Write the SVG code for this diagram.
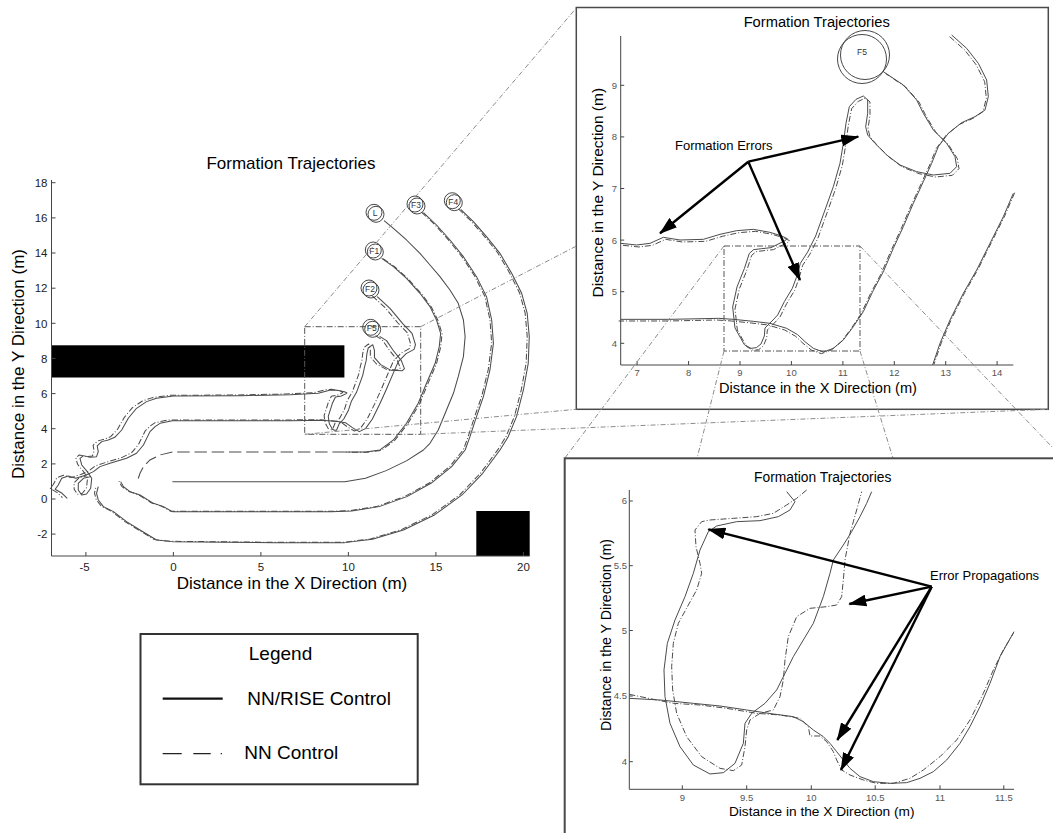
<svg xmlns="http://www.w3.org/2000/svg" width="1053" height="833" viewBox="0 0 1053 833">
<style>
  text{font-family:"Liberation Sans",Arial,Helvetica,sans-serif}
  .ttl{font-size:17px;text-anchor:middle}
  .tk{font-size:11.5px;fill:#222}
  .tks{font-size:9.5px;fill:#555}
  .ax{fill:none;stroke:#444;stroke-width:1}
  .tr{fill:none;stroke:#4a4a4a;stroke-width:3;stroke-linejoin:round}
  .dd{fill:none;stroke:#4a4a4a;stroke-width:3;stroke-dasharray:18 6 3 6;stroke-linejoin:round}
  .ld{fill:none;stroke:#4a4a4a;stroke-width:3;stroke-dasharray:36 14}
  .zr{fill:none;stroke:#555;stroke-width:1;stroke-dasharray:6 2 1 2}
  .cn{fill:none;stroke:#8c8c8c;stroke-width:1;stroke-dasharray:5 2 1 2}
  .frame{fill:#fff;stroke:#4a4a4a}
  .ar{fill:none;stroke:#000;stroke-width:2.4;marker-end:url(#ah)}
  .rb{fill:none;stroke:#333;stroke-width:0.9}
  .rl{font-size:8.5px;fill:#333;text-anchor:middle}
</style>
<defs>
  <marker id="ah" markerUnits="userSpaceOnUse" markerWidth="18" markerHeight="12" refX="17" refY="6" orient="auto">
    <path d="M0,0 L18,6 L0,12 z" fill="#000"/>
  </marker>
  <!-- robot paths, main plot (local units) -->
  <path id="mL" d="M1114,212 L1141,235 1179,270 1218,310 1247,345 1276,380 1305,420 1329,460 1344,510 1349,560 1344,620 1329,680 1315,730 1295,780 1271,840 1247,880 1228,900 1180,932 1120,962 1060,985 1000,995 500,995"/>
  <path id="mF1" d="M1107,325 L1141,350 1179,385 1218,430 1247,470 1266,510 1278,550 1274,590 1262,640 1237,700 1213,760 1179,820 1141,870 1102,900 1060,906 1000,906"/>
  <path id="mF1b" d="M1000,906 L500,906 464,915 435,930 416,950 406,970 398,995"/>
  <path id="mF3" d="M1228,188 L1266,225 1305,270 1344,320 1382,380 1411,440 1426,510 1431,580 1421,660 1402,740 1382,800 1363,860 1349,900 1310,950 1250,1000 1180,1040 1100,1070 1020,1083 960,1085 500,1085 474,1070 445,1060 406,1035 377,1025 358,1010 350,995"/>
  <path id="mF4" d="M1336,178 L1373,215 1411,260 1450,310 1484,370 1513,430 1529,490 1535,560 1532,640 1518,720 1498,800 1474,860 1450,900 1400,970 1340,1035 1260,1095 1170,1140 1080,1168 1000,1178 800,1178 500,1175 454,1170 406,1140 367,1115 329,1085 300,1070 285,1050 280,1030 285,1010"/>
  <path id="mF2" d="M1094,440 L1131,475 1168,521 1195,550 1205,584 1201,598 1178,611 1155,635 1140,671 1121,717 1101,763 1080,807 1060,836 1042,845 1022,833 1002,818 973,814 933,811 842,812 500,812 464,820 450,830 435,845 416,885 396,910 367,925 319,940 290,950 271,965 250,975 220,985 198,978 179,985 169,1005 160,1018 180,1030 195,1045"/>
  <path id="mF5" d="M1101,559 L1121,572 1140,601 1164,632 1173,656 1167,662 1134,661 1104,644 1086,623 1086,601 1081,584 1068,594 1064,612 1062,632 1057,652 1052,676 1034,727 1019,754 1011,780 997,807 984,821 976,841 970,841 964,838 955,821 952,799 964,760 973,741 990,738 1004,731 1006,729 1001,726 989,723 973,720 956,721 923,730 842,734 700,737 503,738 454,745 425,755 396,775 372,805 353,840 333,862 314,870 295,875 282,888 285,905 280,920 261,922 242,917 232,925 237,945 253,965 266,985 263,1015 251,1032 237,1035 227,1020 227,1000 242,985 263,980"/>
  <!-- first enlargement (local units) -->
  <path id="i1F5" d="M152,730 L200,735 240,730 280,712 330,720 400,718 450,703 500,692 550,688 600,697 635,708 652,716 645,722 603,743 575,746 551,749 538,760 523,806 501,861 488,921 495,984 523,1034 543,1045 559,1043 573,1032 583,1008 585,984 609,960 623,945 643,905 667,865 679,833 691,790 713,756 737,708 765,630 790,560 810,490 820,430 828,370 838,320 858,298 880,288 893,300 893,340 887,380 893,405 915,430 950,465 990,495 1040,515 1090,525 1140,520 1160,500 1155,470 1130,430 1090,390 1060,340 1040,300 1000,255 940,215"/>
  <path id="i1F2" d="M1145,105 L1190,145 1225,190 1250,240 1255,290 1245,330 1215,350 1175,368 1135,400 1105,440 1085,490 1060,545 1030,610 1000,680 970,745 940,815 908,875 880,935 850,980 820,1020 790,1045 760,1056 730,1045 705,1025 683,1004 650,985 600,970 550,964 490,958 446,955 300,958 152,958"/>
  <path id="i1F1" d="M1330,580 L1300,650 1260,730 1220,810 1180,880 1140,960 1110,1030 1088,1095"/>
</defs>

<g id="main-plot">
  <text class="ttl" x="291" y="169">Formation Trajectories</text>
  <text x="24" y="364" font-size="17" text-anchor="middle" transform="rotate(-90 24 364)">Distance in the Y Direction (m)</text>
  <text x="292" y="589" font-size="17" text-anchor="middle">Distance in the X Direction (m)</text>
  <rect x="51.5" y="345.3" width="292.9" height="32.2" fill="#000"/>
  <rect x="476.3" y="511" width="53.4" height="45" fill="#000"/>
  <path class="ax" d="M51.5,180 V556 H529.7"/>
  <path class="ax" d="M51.5,182.7h4M51.5,217.9h4M51.5,253h4M51.5,288.2h4M51.5,323.3h4M51.5,358.4h4M51.5,393.6h4M51.5,428.7h4M51.5,463.9h4M51.5,499h4M51.5,534.1h4M85.9,556v-4M173.4,556v-4M260.9,556v-4M348.4,556v-4M435.9,556v-4M523.4,556v-4"/>
  <g class="tk" text-anchor="end">
    <text x="47.5" y="186.9">18</text><text x="47.5" y="222.1">16</text><text x="47.5" y="257.2">14</text>
    <text x="47.5" y="292.4">12</text><text x="47.5" y="327.5">10</text><text x="47.5" y="362.6">8</text>
    <text x="47.5" y="397.8">6</text><text x="47.5" y="432.9">4</text><text x="47.5" y="468.1">2</text>
    <text x="47.5" y="503.2">0</text><text x="47.5" y="538.3">-2</text>
  </g>
  <g class="tk" text-anchor="middle">
    <text x="84.5" y="571">-5</text><text x="173.4" y="571">0</text><text x="260.9" y="571">5</text>
    <text x="348.4" y="571">10</text><text x="435.9" y="571">15</text><text x="523.4" y="571">20</text>
  </g>
  <rect class="zr" x="304.7" y="326.7" width="116" height="107.6"/>
  <g transform="translate(0,150) scale(0.3448,0.3333)">
    <use href="#mL" class="tr"/>
    <use href="#mF1" class="tr"/><use href="#mF1" class="dd" transform="translate(4,1)"/>
    <use href="#mF1b" class="ld"/>
    <use href="#mF3" class="tr"/><use href="#mF3" class="dd" transform="translate(-5,-1)"/>
    <use href="#mF4" class="tr"/><use href="#mF4" class="dd" transform="translate(-6,-1)"/>
    <use href="#mF2" class="tr"/><use href="#mF2" class="dd" transform="translate(-14,-2)"/>
    <use href="#mF5" class="tr"/><use href="#mF5" class="dd" transform="translate(-12,-2)"/>
  </g>
  <g class="rb">
    <circle cx="374" cy="212.3" r="8"/><circle cx="376" cy="214.3" r="8"/>
    <circle cx="415" cy="204" r="8"/><circle cx="417" cy="206" r="8"/>
    <circle cx="452.3" cy="200.7" r="8"/><circle cx="454.3" cy="202.7" r="8"/>
    <circle cx="373.3" cy="250" r="8"/><circle cx="375.3" cy="252" r="8"/>
    <circle cx="369" cy="288" r="8"/><circle cx="371" cy="290" r="8"/>
    <circle cx="370.7" cy="327.3" r="8"/><circle cx="372.7" cy="329.3" r="8"/>
  </g>
  <g class="rl">
    <text x="375" y="216.3">L</text><text x="416" y="208">F3</text><text x="453.3" y="204.7">F4</text>
    <text x="374.3" y="254">F1</text><text x="370" y="292">F2</text><text x="371.7" y="331.3">F5</text>
  </g>
</g>

<g id="legend">
  <rect x="140.5" y="634" width="277.2" height="150.3" fill="#fff" stroke="#333" stroke-width="2"/>
  <text x="280.5" y="660" font-size="19" text-anchor="middle">Legend</text>
  <line x1="162.7" y1="698.7" x2="222.7" y2="698.7" stroke="#111" stroke-width="2.2"/>
  <text x="247.3" y="705" font-size="19">NN/RISE Control</text>
  <line x1="162.7" y1="753.7" x2="222.5" y2="753.7" stroke="#222" stroke-width="1.3" stroke-dasharray="19 11.6 17.4 10 1.3 100"/>
  <text x="244.3" y="759.3" font-size="19">NN Control</text>
</g>

<g id="inset-1">
  <rect class="frame" x="576.3" y="7.5" width="472" height="401.8" stroke-width="1.5"/>
  <text x="816.7" y="26.7" font-size="14.7" text-anchor="middle">Formation Trajectories</text>
  <text x="603" y="192.7" font-size="15.5" text-anchor="middle" transform="rotate(-90 603 192.7)">Distance in the Y Direction (m)</text>
  <text x="818" y="393" font-size="14.6" text-anchor="middle">Distance in the X Direction (m)</text>
  <path class="ax" d="M620.7,36 V365 H1013.3"/>
  <path class="ax" d="M620.7,85.3h3.5M620.7,136.9h3.5M620.7,188.5h3.5M620.7,240.1h3.5M620.7,291.7h3.5M620.7,343.3h3.5M637.1,365v-4M688.6,365v-4M740,365v-4M791.4,365v-4M842.9,365v-4M894.3,365v-4M945.7,365v-4M997.1,365v-4"/>
  <g class="tks" text-anchor="end">
    <text x="617" y="88.7">9</text><text x="617" y="140.3">8</text><text x="617" y="191.9">7</text>
    <text x="617" y="243.5">6</text><text x="617" y="295.1">5</text><text x="617" y="346.7">4</text>
  </g>
  <g class="tks" text-anchor="middle">
    <text x="637.1" y="376">7</text><text x="688.6" y="376">8</text><text x="740" y="376">9</text>
    <text x="791.4" y="376">10</text><text x="842.9" y="376">11</text><text x="894.3" y="376">12</text>
    <text x="945.7" y="376">13</text><text x="997.1" y="376">14</text>
  </g>
  <rect class="zr" x="724" y="246" width="136" height="105"/>
  <g transform="translate(570,0) scale(0.33333)">
    <use href="#i1F1" class="tr"/><use href="#i1F1" class="dd" transform="translate(4,-2)"/>
    <use href="#i1F2" class="tr"/><use href="#i1F2" class="dd" transform="translate(-6,5)"/>
    <use href="#i1F5" class="tr"/><use href="#i1F5" class="dd" transform="translate(7,6)"/>
  </g>
  <circle class="rb" cx="865" cy="55" r="24.5"/>
  <circle class="rb" cx="862" cy="59" r="24.5"/>
  <text class="rl" x="862" y="54.5">F5</text>
  <text x="675" y="149.5" font-size="13">Formation Errors</text>
  <line class="ar" x1="748.3" y1="161.7" x2="858.3" y2="136.7"/>
  <line class="ar" x1="748.3" y1="161.7" x2="660" y2="233.3"/>
  <line class="ar" x1="748.3" y1="161.7" x2="800" y2="280"/>
</g>

<g id="connectors" class="cn">
  <line x1="304.7" y1="326.7" x2="576.3" y2="8"/>
  <line x1="420.7" y1="326.7" x2="576.5" y2="246"/>
  <line x1="304.7" y1="434.3" x2="576.3" y2="409.3"/>
  <line x1="420.7" y1="434.3" x2="1048.3" y2="409.3"/>
  <line x1="724" y1="246" x2="564.7" y2="458.3"/>
  <line x1="860" y1="246" x2="1053" y2="448"/>
  <line x1="724" y1="351" x2="697" y2="458.3"/>
  <line x1="860" y1="351" x2="893" y2="458.3"/>
</g>

<g id="inset-2">
  <rect class="frame" x="564.7" y="458.3" width="500" height="390" stroke-width="2"/>
  <text x="822.7" y="481.6" font-size="13.8" text-anchor="middle">Formation Trajectories</text>
  <text x="611" y="635" font-size="14.2" text-anchor="middle" transform="rotate(-90 611 635)">Distance in the Y Direction (m)</text>
  <text x="821.7" y="816" font-size="13.7" text-anchor="middle">Distance in the X Direction (m)</text>
  <path class="ax" d="M629.3,490 V789.3 H1014"/>
  <path class="ax" d="M629.3,501h3.5M629.3,565.7h3.5M629.3,630.5h3.5M629.3,696h3.5M629.3,761.7h3.5M682.3,789.3v-4M746.7,789.3v-4M811.3,789.3v-4M875.2,789.3v-4M940,789.3v-4M1003.8,789.3v-4"/>
  <g class="tks" text-anchor="end">
    <text x="627" y="504.4">6</text><text x="627" y="569.1">5.5</text><text x="627" y="633.9">5</text>
    <text x="627" y="699.4">4.5</text><text x="627" y="765.1">4</text>
  </g>
  <g class="tks" text-anchor="middle">
    <text x="682.3" y="801">9</text><text x="746.7" y="801">9.5</text><text x="811.3" y="801">10</text>
    <text x="875.2" y="801">10.5</text><text x="940" y="801">11</text><text x="1003.8" y="801">11.5</text>
  </g>
  <g transform="translate(560,450) scale(0.33333)">
    <path class="tr" d="M680,125 L705,155 690,180 655,200 600,212 530,215 470,228 445,245 420,300 400,370 375,440 345,510 322,580 312,660 315,740 330,820 360,890 400,945 450,972 490,968 525,940 550,880 555,820 575,790 615,760 650,720 675,670 700,620 730,570 760,520 790,440 810,370 820,330 850,285 875,245 900,200 920,160 935,125"/>
    <path class="dd" d="M740,120 L710,145 680,165 640,190 590,200 520,205 450,210 425,215 405,240 408,290 420,340 425,370 410,420 385,465 355,520 340,580 335,650 338,720 350,790 380,860 425,920 480,955 520,962 545,945 555,890 560,840 570,810 600,790 640,780 660,740 670,690 675,630 685,560 710,500 750,475 800,470 830,465 845,440 850,390 855,330 870,250 890,180 905,125"/>
    <path class="tr" d="M208,745 L300,750 400,760 480,768 560,780 640,792 700,800 730,815 760,840 790,860 810,880 830,905 850,930 870,955 900,980 940,995 990,1000 1040,998 1080,985 1120,965 1160,930 1200,880 1230,830 1260,770 1290,700 1320,620 1362,545"/>
    <path class="dd" d="M208,733 L290,750 340,760 420,765 500,775 590,790 660,795 720,805 745,830 750,858 780,858 800,875 820,905 830,930 845,960 870,975 910,990 950,1000 1000,1000 1050,985 1090,960 1140,920 1190,870 1230,810 1270,730 1300,660 1330,600 1360,550"/>
  </g>
  <text x="930" y="579.5" font-size="13">Error Propagations</text>
  <line class="ar" x1="931.7" y1="586.7" x2="708.3" y2="529.3"/>
  <line class="ar" x1="931.7" y1="586.7" x2="849.3" y2="604"/>
  <line class="ar" x1="931.7" y1="586.7" x2="837.3" y2="740"/>
  <line class="ar" x1="931.7" y1="586.7" x2="841" y2="770"/>
</g>
</svg>
